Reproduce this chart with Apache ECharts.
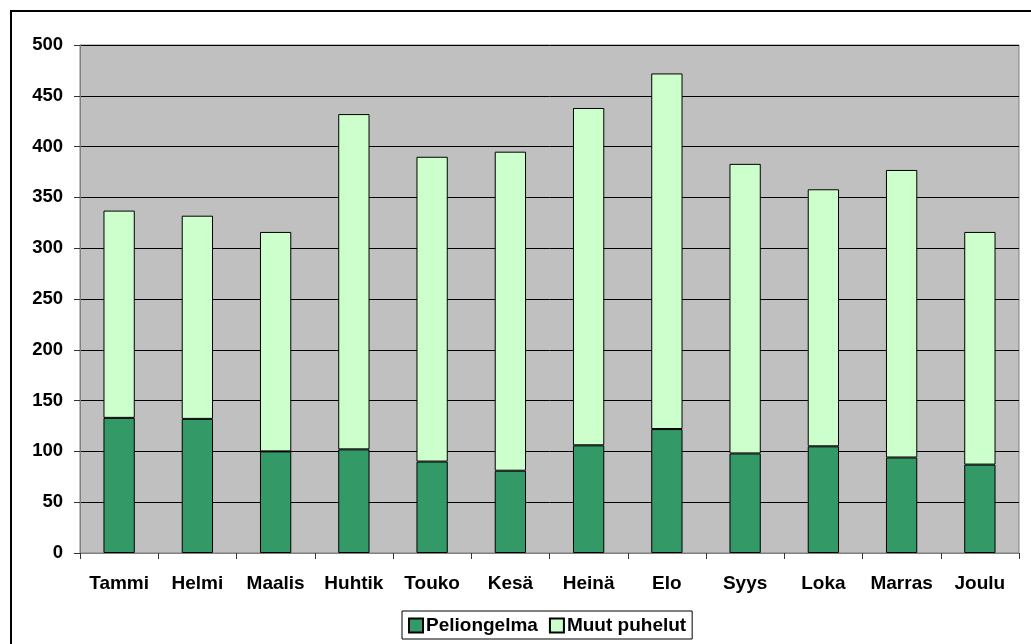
<!DOCTYPE html>
<html>
<head>
<meta charset="utf-8">
<script src="https://cdn.jsdelivr.net/npm/echarts@6/dist/echarts.min.js"></script>
<style>
html,body{margin:0;padding:0;background:#fff;}
#main{width:1031px;height:644px;}
</style>
</head>
<body>
<div id="main"></div>
<script>
const categories = ['Tammi','Helmi','Maalis','Huhtik','Touko','Kesä','Heinä','Elo','Syys','Loka','Marras','Joulu'];
const peliongelma = [133,132,100,102,90,81,106,122,98,105,94,87];
const muutPuhelut = [204,200,216,330,300,314,332,350,285,253,283,229];
const yTicks = {min:0, max:500, interval:50};

const FONT = 'Arial, "Liberation Sans", sans-serif';
const chart = echarts.init(document.getElementById('main'), null, {renderer:'canvas'});
chart.setOption({
  backgroundColor:'#ffffff',
  animation:false,
  textStyle:{fontFamily:FONT,color:'#000'},
  graphic:[{
    type:'rect', silent:true, z:-1,
    shape:{x:11,y:11,width:1040,height:660},
    style:{fill:'none',stroke:'#000',lineWidth:2}
  }],
  grid:{left:80,top:45,right:12,bottom:91,show:true,backgroundColor:'#C0C0C0',borderColor:'#808080',borderWidth:1},
  legend:{
    left:402, top:611,
    padding:[5,6,4,6],
    itemWidth:14, itemHeight:14, itemGap:11,
    borderColor:'#000', borderWidth:1, backgroundColor:'#fff',
    icon:'rect',
    textStyle:{fontFamily:FONT,fontSize:19,fontWeight:'bold',color:'#000',padding:[0,0,0,-2]},
    data:['Peliongelma','Muut puhelut']
  },
  xAxis:{
    type:'category', data:categories, boundaryGap:true,
    axisLine:{lineStyle:{color:'#808080',width:1}},
    axisTick:{show:true,length:6,lineStyle:{color:'#333'}},
    axisLabel:{fontFamily:FONT,fontSize:19,fontWeight:'bold',color:'#000',margin:21,interval:0}
  },
  yAxis:{
    type:'value', min:yTicks.min, max:yTicks.max, interval:yTicks.interval,
    axisLine:{show:true,lineStyle:{color:'#808080',width:1}},
    axisTick:{show:true,length:6,lineStyle:{color:'#333'}},
    axisLabel:{fontFamily:FONT,fontSize:18.5,fontWeight:'bold',color:'#000',margin:17},
    splitLine:{show:true,lineStyle:{color:'#000',width:1}}
  },
  series:[
    {name:'Peliongelma',type:'bar',stack:'t',data:peliongelma,barWidth:'40%',
     itemStyle:{color:'#339966',borderColor:'#000',borderWidth:1}},
    {name:'Muut puhelut',type:'bar',stack:'t',data:muutPuhelut,barWidth:'40%',
     itemStyle:{color:'#CCFFCC',borderColor:'#000',borderWidth:1}}
  ]
});
</script>
</body>
</html>
